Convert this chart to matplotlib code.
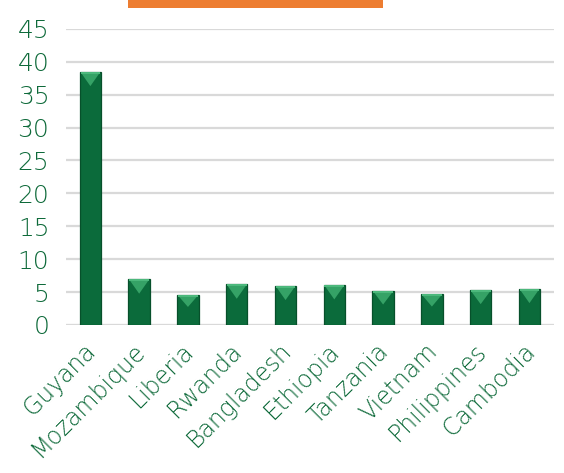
import matplotlib
matplotlib.use("Agg")
import matplotlib.pyplot as plt
import matplotlib.transforms as mtransforms
from matplotlib.patches import Rectangle, Polygon

countries = ["Guyana", "Mozambique", "Liberia", "Rwanda", "Bangladesh",
             "Ethiopia", "Tanzania", "Vietnam", "Philippines", "Cambodia"]
values = [38.5, 6.95, 4.56, 6.18, 5.98, 6.08, 5.17, 4.66, 5.27, 5.52]
yticks = [0, 5, 10, 15, 20, 25, 30, 35, 40, 45]

green_text = "#0E6A3A"
bar_color = "#0B6B3B"

plt.rcParams['font.family'] = ['DejaVu Sans']

fig = plt.figure(figsize=(5.64, 4.73), dpi=100)
ax = fig.add_axes([0.117, 0.313, 0.865, 0.626])

x = list(range(len(countries)))
bars = ax.bar(x, values, width=0.44, color=bar_color, edgecolor="#07502B",
              linewidth=0.9, zorder=3)
for b in bars:
    bx, bw, bh = b.get_x(), b.get_width(), b.get_height()
    cap = min(2.2, bh * 0.4)
    tri = Polygon([(bx + bw * 0.08, bh - 0.25), (bx + bw * 0.92, bh - 0.25),
                   (bx + bw / 2, bh - cap)], closed=True,
                  facecolor="#35A266", edgecolor="none", zorder=4)
    ax.add_patch(tri)
    ax.add_patch(Rectangle((bx + bw * 0.04, bh - 0.3), bw * 0.92, 0.3,
                           facecolor="#4CB87C", edgecolor="none", zorder=4))

ax.set_ylim(0, 45)
ax.set_xlim(-0.5, len(countries) - 0.5)
ax.set_yticks(yticks)
ax.set_yticklabels([str(v) for v in yticks], fontsize=18, fontweight=200)
ax.yaxis.grid(True, color="#D9D9D9", linewidth=1.6, zorder=0)
ax.set_axisbelow(True)
for s in ax.spines.values():
    s.set_visible(False)
ax.axhline(0, color="#D9D9D9", linewidth=2.2, zorder=2)
ax.tick_params(axis='both', length=0, colors=green_text)
ax.tick_params(axis='y', pad=12)
ax.set_xticks(x)
ax.set_xticklabels(countries, rotation=45, ha='right', rotation_mode='anchor',
                   fontsize=17, fontweight=200, color=green_text)
ax.tick_params(axis='x', pad=10)
offset = mtransforms.ScaledTranslation(-7 / 100, 0, fig.dpi_scale_trans)
for lbl in ax.get_xticklabels():
    lbl.set_transform(lbl.get_transform() + offset)

fig.patches.append(Rectangle((128 / 564, 1 - 8 / 473), (383 - 128) / 564, 8 / 473,
                             transform=fig.transFigure, facecolor="#ED7D31",
                             edgecolor="none"))

fig.savefig("out.png", dpi=100)
